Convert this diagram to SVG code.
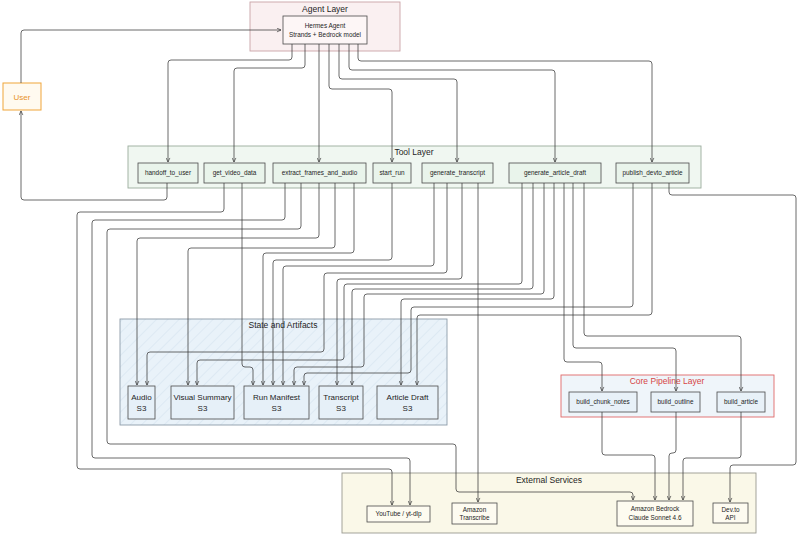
<svg xmlns="http://www.w3.org/2000/svg" width="800" height="535" viewBox="0 0 800 535">
<style>
text{font-family:"Liberation Sans","DejaVu Sans",sans-serif;fill:#1e1e1e;text-anchor:middle}
.ct{font-size:8.5px}
.nt{font-size:6.4px}
.at{font-size:8px}
.node{stroke:#4a4a4a;stroke-width:0.8}
.tool{fill:#e9f4eb}
.art{fill:#e6f0f8}
.core{fill:#e8f1f8}
.ext{fill:#fdfbf0}
.conn path{fill:none;stroke:#3a3a3a;stroke-width:0.75;marker-end:url(#arr)}
</style>
<defs>
<marker id="arr" viewBox="0 0 8 8" refX="7.5" refY="4" markerWidth="5" markerHeight="5" orient="auto" markerUnits="userSpaceOnUse">
<path d="M1,1 L7.5,4 L1,7" fill="none" stroke="#3a3a3a" stroke-width="1.1"/>
</marker>
<pattern id="hatch" width="8" height="8" patternUnits="userSpaceOnUse" patternTransform="rotate(45)">
<rect width="8" height="8" fill="#e9f2f9"/>
<line x1="0" y1="0" x2="0" y2="8" stroke="#dde9f3" stroke-width="2"/>
</pattern>
</defs>

<g id="agent-layer">
<rect x="250" y="2" width="150" height="49" fill="#faf0f1" stroke="#c9a3a7" stroke-width="0.9"/>
<text class="ct" x="325" y="12">Agent Layer</text>
</g>
<g id="tool-layer">
<rect x="128" y="146" width="573" height="42" fill="#f0f7f1" stroke="#9aab9c" stroke-width="0.9"/>
<text class="ct" x="414" y="155">Tool Layer</text>
</g>
<g id="state-artifacts">
<rect x="120" y="319" width="327" height="106" fill="url(#hatch)" stroke="#8d9ba8" stroke-width="0.9"/>
<text class="ct" x="283" y="328">State and Artifacts</text>
</g>
<g id="core-pipeline">
<rect x="561" y="375" width="213" height="42" fill="#eff5fa" stroke="#e06868" stroke-width="0.9"/>
<text class="ct" x="667" y="384" style="fill:#d64545">Core Pipeline Layer</text>
</g>
<g id="external-services">
<rect x="342" y="473" width="414" height="60" fill="#faf8e8" stroke="#9a9a90" stroke-width="0.9"/>
<text class="ct" x="549" y="483">External Services</text>
</g>

<g id="hermes">
<rect class="node" x="283" y="16" width="84" height="28" fill="#fdf6f6"/>
<text class="nt" x="325" y="28">Hermes Agent</text>
<text class="nt" x="325" y="37">Strands + Bedrock model</text>
</g>
<g id="user">
<rect x="3" y="83" width="38" height="27" fill="#fffaf0" stroke="#f0a53a" stroke-width="1"/>
<text x="22" y="99.5" style="font-size:8px;fill:#e8922a">User</text>
</g>

<g id="handoff_to_user"><rect class="node tool" x="138" y="163" width="60" height="20"/><text class="nt" x="168" y="175">handoff_to_user</text></g>
<g id="get_video_data"><rect class="node tool" x="204" y="163" width="61" height="20"/><text class="nt" x="234.5" y="175">get_video_data</text></g>
<g id="extract_frames_and_audio"><rect class="node tool" x="273" y="163" width="93" height="20"/><text class="nt" x="319.5" y="175">extract_frames_and_audio</text></g>
<g id="start_run"><rect class="node tool" x="373" y="163" width="38" height="20"/><text class="nt" x="392" y="175">start_run</text></g>
<g id="generate_transcript"><rect class="node tool" x="422" y="163" width="71" height="20"/><text class="nt" x="457.5" y="175">generate_transcript</text></g>
<g id="generate_article_draft"><rect class="node tool" x="509" y="163" width="92" height="20"/><text class="nt" x="555" y="175">generate_article_draft</text></g>
<g id="publish_devto_article"><rect class="node tool" x="616" y="163" width="73" height="20"/><text class="nt" x="652.5" y="175">publish_devto_article</text></g>

<g id="audio"><rect class="node art" x="128" y="386" width="27" height="33"/><text class="at" x="141.5" y="400">Audio</text><text class="at" x="141.5" y="411">S3</text></g>
<g id="visual_summary"><rect class="node art" x="171" y="386" width="63" height="33"/><text class="at" x="202.5" y="400">Visual Summary</text><text class="at" x="202.5" y="411">S3</text></g>
<g id="run_manifest"><rect class="node art" x="244" y="386" width="65" height="33"/><text class="at" x="276.5" y="400">Run Manifest</text><text class="at" x="276.5" y="411">S3</text></g>
<g id="transcript"><rect class="node art" x="319" y="386" width="44" height="33"/><text class="at" x="341" y="400">Transcript</text><text class="at" x="341" y="411">S3</text></g>
<g id="article_draft"><rect class="node art" x="377" y="386" width="61" height="33"/><text class="at" x="407.5" y="400">Article Draft</text><text class="at" x="407.5" y="411">S3</text></g>

<g id="build_chunk_notes"><rect class="node core" x="569" y="392" width="68" height="20"/><text class="nt" x="603" y="404">build_chunk_notes</text></g>
<g id="build_outline"><rect class="node core" x="651" y="392" width="49" height="20"/><text class="nt" x="675.5" y="404">build_outline</text></g>
<g id="build_article"><rect class="node core" x="717" y="392" width="48" height="20"/><text class="nt" x="741" y="404">build_article</text></g>

<g id="youtube"><rect class="node ext" x="367" y="506" width="63" height="16"/><text class="nt" x="398.5" y="516">YouTube / yt-dlp</text></g>
<g id="transcribe"><rect class="node ext" x="452" y="503" width="45" height="21"/><text class="nt" x="474.5" y="511.5">Amazon</text><text class="nt" x="474.5" y="520">Transcribe</text></g>
<g id="bedrock"><rect class="node ext" x="617" y="501" width="76" height="25"/><text class="nt" x="655" y="511">Amazon Bedrock</text><text class="nt" x="655" y="520">Claude Sonnet 4.6</text></g>
<g id="devto"><rect class="node ext" x="713" y="503" width="35" height="20"/><text class="nt" x="730.5" y="511.5">Dev.to</text><text class="nt" x="730.5" y="520">API</text></g>

<g id="connectors" class="conn">
<path d="M21,83 L21,33 Q21,30 24,30 L281,30"/>
<path d="M167,183 L167,197 Q167,200 164,200 L24,200 Q21,200 21,197 L21,111"/>
<path d="M292,44 L292,57 Q292,60 289,60 L171,60 Q168,60 168,63 L168,162"/>
<path d="M305,44 L305,65 Q305,68 302,68 L237,68 Q234,68 234,71 L234,162"/>
<path d="M319,44 L319,162"/>
<path d="M329,44 L329,86 Q329,89 332,89 L389,89 Q392,89 392,92 L392,162"/>
<path d="M339,44 L339,76 Q339,79 342,79 L454,79 Q457,79 457,82 L457,162"/>
<path d="M349,44 L349,67 Q349,70 352,70 L552,70 Q555,70 555,73 L555,162"/>
<path d="M358,44 L358,58 Q358,61 361,61 L649,61 Q652,61 652,64 L652,162"/>
<path d="M224,183 L224,209 Q224,212 221,212 L80,212 Q77,212 77,215 L77,466 Q77,469 80,469 L389,469 Q392,469 392,472 L392,505"/>
<path d="M242,183 L242,364 Q242,367 245,367 L250,367 Q253,367 253,370 L253,385"/>
<path d="M285,183 L285,217 Q285,220 282,220 L95,220 Q92,220 92,223 L92,455 Q92,458 95,458 L407,458 Q410,458 410,461 L410,505"/>
<path d="M301,183 L301,226 Q301,229 298,229 L110,229 Q107,229 107,232 L107,441 Q107,444 110,444 L453,444 Q456,444 456,447 L456,489 Q456,492 459,492 L630,492 Q633,492 633,495 L633,500"/>
<path d="M319,183 L319,235 Q319,238 316,238 L140,238 Q137,238 137,241 L137,385"/>
<path d="M335,183 L335,245 Q335,248 332,248 L191,248 Q188,248 188,251 L188,385"/>
<path d="M354,183 L354,250 Q354,253 351,253 L266,253 Q263,253 263,256 L263,385"/>
<path d="M392,183 L392,257 Q392,260 389,260 L276,260 Q273,260 273,263 L273,385"/>
<path d="M434,183 L434,263 Q434,266 431,266 L286,266 Q283,266 283,269 L283,385"/>
<path d="M447,183 L447,270 Q447,273 444,273 L327,273 Q324,273 324,276 L324,349 Q324,352 321,352 L150,352 Q147,352 147,355 L147,385"/>
<path d="M462,183 L462,276 Q462,279 459,279 L340,279 Q337,279 337,282 L337,385"/>
<path d="M478,183 L478,502"/>
<path d="M522,183 L522,281 Q522,284 519,284 L347,284 Q344,284 344,287 L344,357 Q344,360 341,360 L200,360 Q197,360 197,363 L197,385"/>
<path d="M533,183 L533,286 Q533,289 530,289 L355,289 Q352,289 352,292 L352,385"/>
<path d="M544,183 L544,291 Q544,294 541,294 L367,294 Q364,294 364,297 L364,364 Q364,367 361,367 L297,367 Q294,367 294,370 L294,385"/>
<path d="M554,183 L554,296 Q554,299 551,299 L404,299 Q401,299 401,302 L401,385"/>
<path d="M564,183 L564,359 Q564,362 567,362 L599,362 Q602,362 602,365 L602,391"/>
<path d="M573,183 L573,345 Q573,348 576,348 L673,348 Q676,348 676,351 L676,391"/>
<path d="M584,183 L584,333 Q584,336 587,336 L738,336 Q741,336 741,339 L741,391"/>
<path d="M633,183 L633,304 Q633,307 630,307 L414,307 Q411,307 411,310 L411,370 Q411,373 408,373 L307,373 Q304,373 304,376 L304,385"/>
<path d="M652,183 L652,312 Q652,315 649,315 L420,315 Q417,315 417,318 L417,385"/>
<path d="M669,183 L669,192 Q669,195 672,195 L793,195 Q796,195 796,198 L796,462 Q796,465 793,465 L733,465 Q730,465 730,468 L730,502"/>
<path d="M602,412 L602,452 Q602,455 605,455 L652,455 Q655,455 655,458 L655,500"/>
<path d="M676,412 L676,450 Q676,453 673,453 L672,453 Q669,453 669,456 L669,500"/>
<path d="M741,412 L741,455 Q741,458 738,458 L686,458 Q683,458 683,461 L683,500"/>
</g>
</svg>
